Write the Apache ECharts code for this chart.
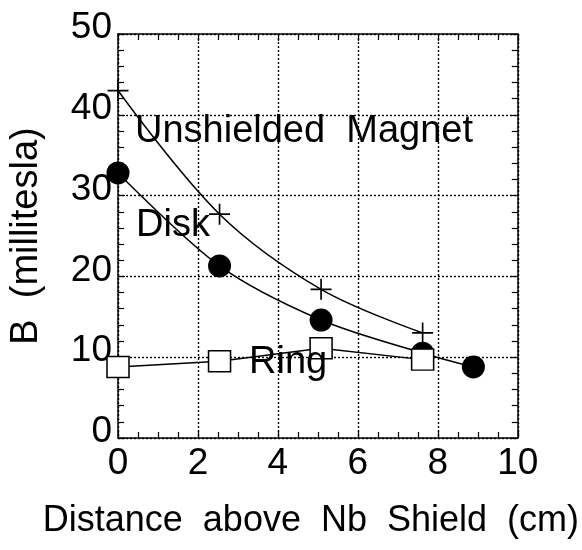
<!DOCTYPE html>
<html>
<head>
<meta charset="utf-8">
<script src="https://cdn.jsdelivr.net/npm/echarts@6/dist/echarts.min.js"></script>
<style>html,body{margin:0;padding:0;background:#fff}#c{width:582px;height:550px}</style>
</head>
<body>
<div id="c"></div>
<script>
// Data (distance in cm, B in millitesla)
var unshieldedX = [0, 2.54, 5.08, 7.62];
var unshieldedY = [43.0, 27.7, 18.4, 13.0];
var diskX = [0, 2.54, 5.08, 7.62, 8.89];
var diskY = [32.8, 21.3, 14.6, 10.5, 8.8];
var ringX = [0, 2.54, 5.08, 7.62];
var ringY = [8.8, 9.5, 11.1, 9.7];
var xTicks = [0, 2, 4, 6, 8, 10];
var yTicks = [0, 10, 20, 30, 40, 50];
var seriesNames = ['Unshielded  Magnet', 'Disk', 'Ring'];

function pairs(xs, ys) { return xs.map(function (x, i) { return [x, ys[i]]; }); }

var FONT = '"Liberation Sans", Arial, Helvetica, sans-serif';
var chart = echarts.init(document.getElementById('c'));
var plusPath = 'path://M9.2,0h1.6v9.2h9.2v1.6h-9.2v9.2h-1.6v-9.2h-9.2v-1.6h9.2z';

var baseX = {
  type: 'value', min: xTicks[0], max: xTicks[xTicks.length - 1], interval: 2,
  axisLine: { show: true, onZero: false, lineStyle: { color: '#000', width: 1.5 } },
  axisTick: { show: true, inside: true, length: 7, lineStyle: { color: '#000', width: 1.2 } },
  minorTick: { show: true, splitNumber: 4, length: 6, lineStyle: { color: '#000', width: 1.2 } },
  splitLine: { show: false }
};
var baseY = {
  type: 'value', min: yTicks[0], max: yTicks[yTicks.length - 1], interval: 10,
  axisLine: { show: true, onZero: false, lineStyle: { color: '#000', width: 1.5 } },
  axisTick: { show: true, inside: true, length: 7, lineStyle: { color: '#000', width: 1.2 } },
  minorTick: { show: true, splitNumber: 5, length: 6, lineStyle: { color: '#000', width: 1.2 } },
  splitLine: { show: false }
};
function merge(a, b) { return Object.assign({}, a, b); }

chart.setOption({
  animation: false,
  backgroundColor: '#fff',
  grid: { left: 118, right: 60, top: 34, bottom: 112, containLabel: false },
  xAxis: [
    merge(baseX, {
      position: 'bottom',
      name: 'Distance  above  Nb  Shield  (cm)', nameLocation: 'middle', nameGap: 65,
      nameTextStyle: { fontFamily: FONT, fontSize: 36, color: '#000', padding: [0, 14, 0, 0] },
      axisLabel: { show: true, margin: 7, fontFamily: FONT, fontSize: 37, color: '#000',
        formatter: function (v) { return xTicks.indexOf(v) >= 0 ? String(v) : ''; } },
      splitLine: { show: true, lineStyle: { color: '#000', width: 1.4, type: [2, 2] } }
    }),
    merge(baseX, { position: 'top', axisLabel: { show: false } })
  ],
  yAxis: [
    merge(baseY, {
      position: 'left',
      name: 'B  (millitesla)', nameLocation: 'middle', nameGap: 72, nameRotate: 90,
      nameTextStyle: { fontFamily: FONT, fontSize: 38, color: '#000' },
      axisLabel: { show: true, margin: 6, fontFamily: FONT, fontSize: 37, color: '#000',
        verticalAlign: 'bottom', lineHeight: 12,
        formatter: function (v) { return yTicks.indexOf(v) >= 0 ? String(v) : ''; } },
      splitLine: { show: true, lineStyle: { color: '#000', width: 1.4, type: [2, 2] } }
    }),
    merge(baseY, { position: 'right', axisLabel: { show: false } })
  ],
  series: [
    {
      name: seriesNames[0], type: 'line', data: pairs(unshieldedX, unshieldedY),
      smooth: 0.35, symbol: plusPath, symbolSize: 21, symbolKeepAspect: true,
      lineStyle: { color: '#000', width: 1.5 },
      itemStyle: { color: '#000', borderWidth: 0 }, z: 3
    },
    {
      name: seriesNames[1], type: 'line', data: pairs(diskX, diskY),
      smooth: 0.3, symbol: 'circle', symbolSize: 23,
      lineStyle: { color: '#000', width: 1.5 },
      itemStyle: { color: '#000', borderWidth: 0 }, z: 3
    },
    {
      name: seriesNames[2], type: 'line', data: pairs(ringX, ringY),
      smooth: false, symbol: 'rect', symbolSize: [22, 21],
      lineStyle: { color: '#000', width: 1.5 },
      itemStyle: { color: '#fff', borderColor: '#000', borderWidth: 1.5 }, z: 4
    }
  ],
  graphic: [
    { type: 'text', left: 135, top: 132 - 19, z: 10,
      style: { text: seriesNames[0], fontFamily: FONT, fontSize: 38, fill: '#000' } },
    { type: 'text', left: 136, top: 226 - 19, z: 10,
      style: { text: seriesNames[1], fontFamily: FONT, fontSize: 38, fill: '#000' } },
    { type: 'text', left: 249, top: 363 - 19, z: 10,
      style: { text: seriesNames[2], fontFamily: FONT, fontSize: 38, fill: '#000' } }
  ]
});
</script>
</body>
</html>
